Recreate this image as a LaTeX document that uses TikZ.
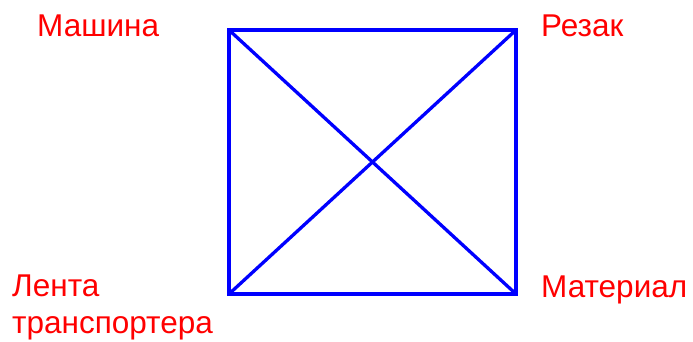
\documentclass[tikz,border=0pt]{standalone}
\usepackage{fontspec}
\setmainfont{Liberation Sans}
\usetikzlibrary{positioning}
\definecolor{edgeblue}{HTML}{0000FF}
\definecolor{labelred}{HTML}{FF0000}

\begin{document}
\begin{tikzpicture}[
  x=1pt, y=-1pt,
  lbl/.style={text=labelred, font=\fontsize{31.5}{37}\selectfont, inner sep=0pt, align=left, anchor=base west},
  edge/.style={draw=edgeblue, line width=3.3pt}
]
\useasboundingbox (0,0) rectangle (693,341);

% corners of the square
\coordinate (mashina)  at (229,30);
\coordinate (rezak)    at (516,30);
\coordinate (material) at (516,294);
\coordinate (lenta)    at (229,294);

% square and diagonals
\draw[edge] (mashina) -- (rezak) -- (material) -- (lenta) -- cycle;
\draw[edge] (mashina) -- (material);
\draw[edge] (rezak) -- (lenta);

% labels
\node[lbl] (lmashina)  at (37,36)   {Машина};
\node[lbl] (lrezak)    at (541,36)  {Резак};
\node[lbl] (llenta)    at (12,333)  {Лента\\транспортера};
\node[lbl] (lmaterial) at (541,297) {Материал};

\end{tikzpicture}
\end{document}
